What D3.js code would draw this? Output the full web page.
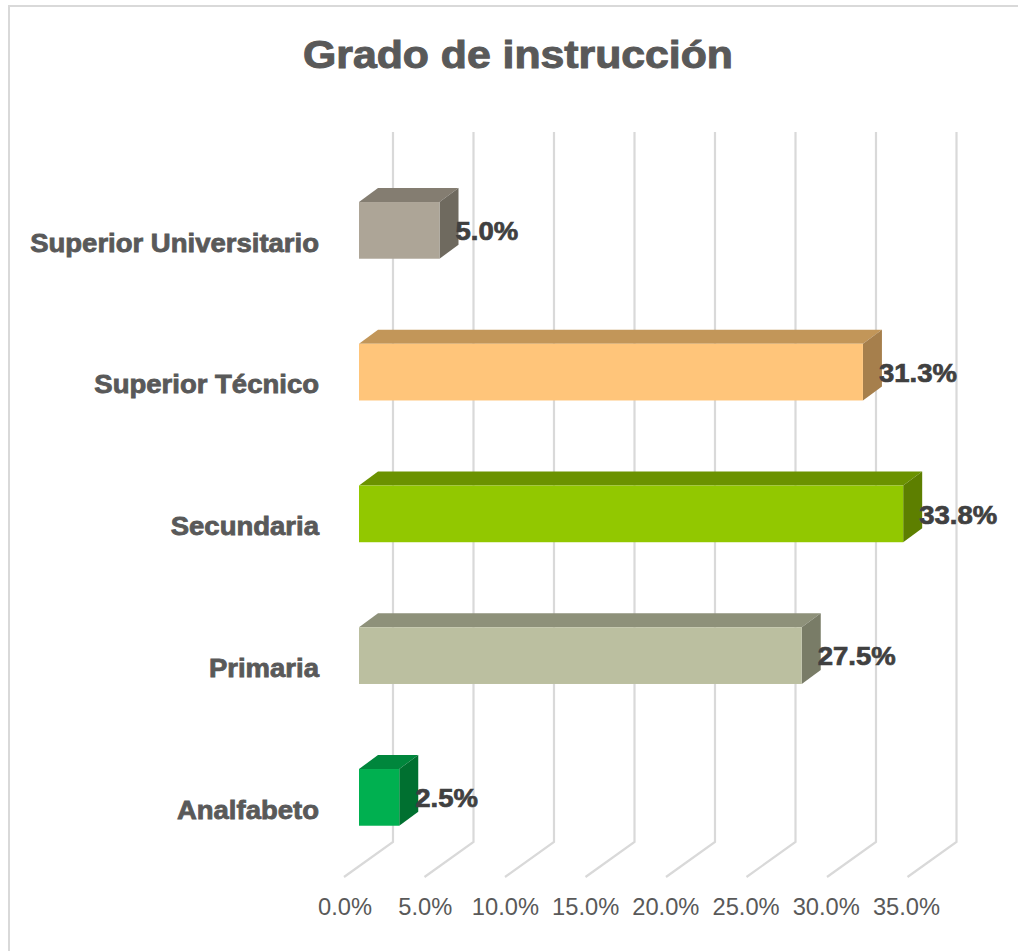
<!DOCTYPE html>
<html><head><meta charset="utf-8">
<style>html,body{margin:0;padding:0;background:#fff}svg{display:block}text{font-family:"Liberation Sans",Arial,sans-serif}</style>
<script src="https://cdn.jsdelivr.net/npm/d3@7"></script></head>
<body><svg id="c" width="1018" height="951"></svg>
<script>
const categories=["Superior Universitario","Superior Técnico","Secundaria","Primaria","Analfabeto"];
const values=[5.0,31.3,33.8,27.5,2.5];
const tickValues=[0,5,10,15,20,25,30,35];
const frontColors=["#ada597","#ffc57a","#92c800","#bbbfa0","#00b050"];
const topColors=["#847d71","#c29659","#6b9200","#8e917a","#00863c"];
const sideColors=["#6f6a5f","#a67f4c","#5d7f00","#797c67","#007030"];
const svg=d3.select("#c");
const depth={x:19,y:-14};
const x=d3.scaleLinear().domain([0,35]).range([359,922.5]);
const xLabel=d3.scaleLinear().domain([0,35]).range([345,906.5]);
const y=d3.scaleBand().domain(categories).range([159.5,868.25]).paddingInner(0.6).paddingOuter(0.3);
const wall={x:34,top:132,bottom:842};
const floor={x:-49,y:35};
function widen(sel,f){sel.each(function(){const n=this;n.setAttribute("lengthAdjust","spacingAndGlyphs");n.setAttribute("textLength",n.getComputedTextLength()*f)});}
svg.append("path").attr("d","M9,951V6H1018").attr("fill","none").attr("stroke","#d9d9d9").attr("stroke-width",2);
svg.append("text").attr("x",518).attr("y",68).attr("text-anchor","middle").attr("font-size",38).attr("font-weight",700).attr("fill","#595959").attr("stroke","#595959").attr("stroke-width",1).text("Grado de instrucción").call(widen,1.125);
const grid=svg.append("g").attr("fill","none").attr("stroke","#d9d9d9").attr("stroke-width",2.2);
grid.selectAll("path").data(tickValues).join("path").attr("d",t=>{const X=x(t)+wall.x;return `M${X},${wall.top}V${wall.bottom}l${floor.x},${floor.y}`});
svg.append("g").selectAll("text").data(tickValues).join("text").attr("x",t=>xLabel(t)).attr("y",915).attr("text-anchor","middle").attr("font-size",23).attr("fill","#595959").text(t=>t.toFixed(1)+"%").call(widen,1.03);
svg.append("g").selectAll("text").data(categories).join("text").attr("x",319).attr("y",c=>y(c)+49.5).attr("text-anchor","end").attr("font-size",25).attr("font-weight",700).attr("fill","#595959").attr("stroke","#595959").attr("stroke-width",0.8).text(c=>c).call(widen,1.1);
const bars=svg.append("g").selectAll("g").data(categories).join("g");
bars.append("path").attr("fill",(c,i)=>topColors[i]).attr("d",(c,i)=>{const x0=x(0),x1=x(values[i]),t=y(c);return `M${x0},${t}L${x0+depth.x},${t+depth.y}H${x1+depth.x}L${x1},${t}Z`});
bars.append("path").attr("fill",(c,i)=>sideColors[i]).attr("d",(c,i)=>{const x1=x(values[i]),t=y(c),b=t+y.bandwidth();return `M${x1},${t}L${x1+depth.x},${t+depth.y}V${b+depth.y}L${x1},${b}Z`});
bars.append("rect").attr("fill",(c,i)=>frontColors[i]).attr("x",x(0)).attr("y",c=>y(c)).attr("width",(c,i)=>x(values[i])-x(0)).attr("height",y.bandwidth());
svg.append("g").selectAll("text").data(categories).join("text").attr("x",(c,i)=>x(values[i])+16).attr("y",c=>y(c)+38).attr("font-size",25).attr("font-weight",700).attr("fill","#404040").attr("stroke","#404040").attr("stroke-width",0.7).text((c,i)=>values[i].toFixed(1)+"%").call(widen,1.1);
</script></body></html>
